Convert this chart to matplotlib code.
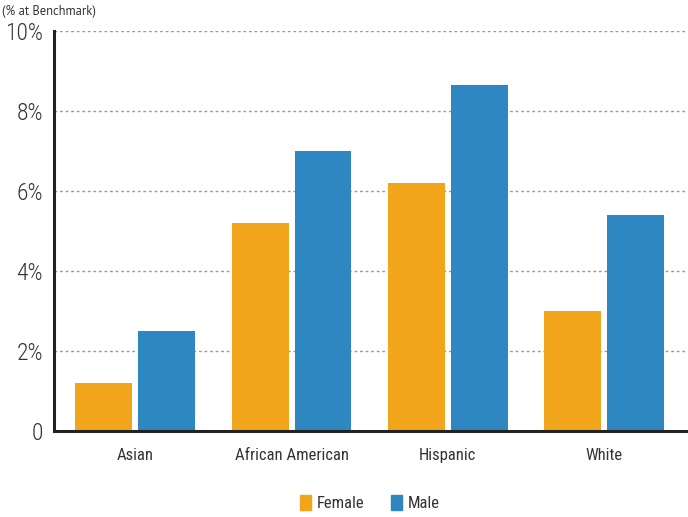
import numpy as np
import matplotlib.pyplot as plt
import matplotlib.patches as patches

categories = ["Asian", "African American", "Hispanic", "White"]
female = [1.2, 5.2, 6.2, 3.0]
male = [2.5, 7.0, 8.65, 5.4]
yticks = [0, 2, 4, 6, 8, 10]
ytick_labels = ["0", "2%", "4%", "6%", "8%", "10%"]

plt.rcParams["font.family"] = ["Roboto Condensed", "DejaVu Sans"]

orange = "#F0A51B"
blue = "#2E87C0"
text_color = "#333333"

fig = plt.figure(figsize=(6.88, 5.17), dpi=100)
ax = fig.add_axes([0.0785, 0.1663, 0.92, 0.7737])

x = np.arange(len(categories))
w = 0.364
off = 0.201
ax.bar(x - off, female, width=w, color=orange, zorder=3)
ax.bar(x + off, male, width=w, color=blue, zorder=3)

ax.set_xlim(-0.52, 3.53)
ax.set_ylim(0, 10)
ax.set_yticks(yticks)
ax.set_yticklabels(ytick_labels, fontsize=17, color=text_color, fontweight="light")
ax.set_xticks(x)
ax.set_xticklabels(categories, fontsize=12, color=text_color)
ax.tick_params(axis="both", length=0)
ax.tick_params(axis="x", pad=12)
ax.tick_params(axis="y", pad=8)

ax.yaxis.grid(True, linestyle=(0, (2, 2)), color="#999999", linewidth=1, zorder=0)
for s in ["top", "right"]:
    ax.spines[s].set_visible(False)
for s in ["left", "bottom"]:
    ax.spines[s].set_linewidth(2.2)
    ax.spines[s].set_color("#222222")
    ax.spines[s].set_zorder(4)

fig.text(0.003, 0.977, "(% at Benchmark)", fontsize=9, color=text_color,
         family=["PT Sans", "DejaVu Sans"], va="center", ha="left")

handles = [patches.Patch(color=orange), patches.Patch(color=blue)]
fig.legend(handles, ["Female", "Male"], loc="center", bbox_to_anchor=(0.537, 0.027),
           ncol=2, frameon=False, fontsize=12, handlelength=0.7, handleheight=1.0,
           handletextpad=0.3, columnspacing=1.6, labelcolor=text_color)

fig.savefig("out.png", dpi=100)
